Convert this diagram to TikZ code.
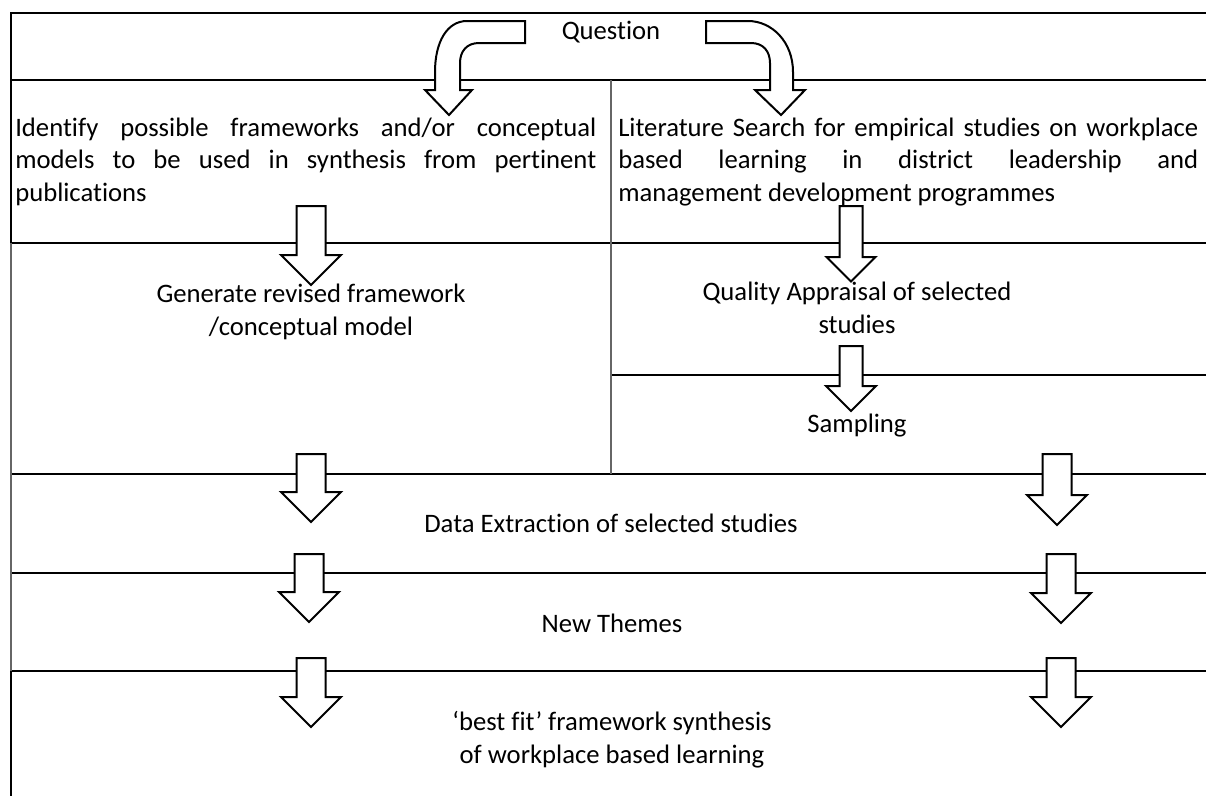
\documentclass[tikz,border=0pt]{standalone}
\usepackage{fontspec}
\setmainfont{Carlito}[Ligatures=NoCommon]
\tikzset{
  rule/.style={line width=1.5pt},
  thinrule/.style={line width=0.8pt,black!60},
  blk/.style={draw=black,line width=1.5pt,fill=white,line join=miter},
  lbl/.style={font=\fontsize{20}{24.4}\selectfont,inner sep=0pt},
  pics/dnarrow/.style args={#1/#2/#3}{code={
    \draw[blk] (-#1,0) -- (-#1,#2) -- (-#3,#2) -- (0,#2+#3) -- (#3,#2) -- (#1,#2) -- (#1,0) -- cycle;}}
}
\begin{document}
\begin{tikzpicture}[x=0.75pt,y=-0.75pt]
  \useasboundingbox (0,0) rectangle (1206,796);
  % table rules
  \draw[rule] (11,13) -- (1206,13);
  \draw[rule] (11,80) -- (1206,80);
  \draw[rule] (11,243) -- (1206,243);
  \draw[rule] (611,375) -- (1206,375);
  \foreach \y in {474,573,671} \draw[rule] (11,\y) -- (1206,\y);
  \draw[rule] (11,12.3) -- (11,243);
  \draw[thinrule] (11,243) -- (11,671);
  \draw[rule] (11,671) -- (11,796);
  \draw[thinrule] (611,80) -- (611,474);
  % bent arrows from the question
  \draw[blk] (525,21) -- (467,21) .. controls (447,21) and (435,42) .. (435,72) -- (435,90) -- (425,90) -- (449,115) -- (472,90) -- (460,90) -- (460,63) .. controls (460,51) and (467,43) .. (479,43) -- (525,43) -- cycle;
  \draw[blk] (706,21) -- (748,21) .. controls (772,21) and (793,42) .. (793,72) -- (793,90) -- (805,90) -- (781,115) -- (755,90) -- (770,90) -- (770,63) .. controls (770,51) and (763,43) .. (751,43) -- (706,43) -- cycle;
  % straight arrows
  \pic at (311,206) {dnarrow=14.5/49/30};
  \pic at (851,206) {dnarrow=11.5/51/24.5};
  \pic at (851,346) {dnarrow=11.5/40/25};
  \foreach \cx/\ty/\len in {311/454/38,309/554/38,311/658/39,1057/454/41,1061/554/39,1061/658/39}
    \pic at (\cx,\ty) {dnarrow=14.5/\len/30};
  % texts
  \node (question) [lbl,anchor=base] at (611,39) {Question};
  \node (frameworks) [lbl,anchor=base west,text width=435.75pt,align=justify] at (15,136)
    {Identify possible frameworks and/or conceptual\linebreak models to be used in synthesis from pertinent\linebreak publications};
  \node (litsearch) [lbl,anchor=base west,text width=435pt,align=justify] at (618,136)
    {Literature Search for empirical studies on workplace\linebreak based learning in district leadership and\linebreak management development programmes};
  \node (revised) [lbl,anchor=base,align=center] at (311,335) {Generate revised framework\\/conceptual model};
  \node (appraisal) [lbl,anchor=base,align=center] at (857,333) {Quality Appraisal of selected\\studies};
  \node (sampling) [lbl,anchor=base] at (857,432) {Sampling};
  \node (extraction) [lbl,anchor=base] at (611,532) {Data Extraction of selected studies};
  \node (themes) [lbl,anchor=base] at (612,632) {New Themes};
  \node (bestfit) [lbl,anchor=base,align=center] at (612,763) {‘best fit’ framework synthesis\\of workplace based learning};
\end{tikzpicture}
\end{document}
